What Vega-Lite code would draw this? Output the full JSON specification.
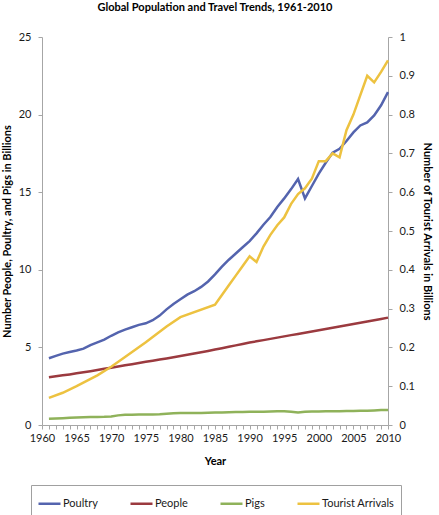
{
  "$schema": "https://vega.github.io/schema/vega-lite/v6.json",
  "width": 346,
  "height": 388,
  "padding": {"left": 1, "top": 2, "right": 4, "bottom": 0},
  "background": "white",
  "title": {"text": "Global Population and Travel Trends, 1961-2010", "font": "Lato", "fontSize": 11, "fontWeight": "bold", "color": "#000000", "offset": 18, "anchor": "middle"},
  "config": {
    "view": {"stroke": null},
    "axis": {"grid": false, "domainColor": "#A6A6A6", "tickColor": "#A6A6A6", "tickSize": 4, "labelFont": "Lato", "labelFontSize": 11, "labelColor": "#1a1a1a", "titleFont": "Lato", "titleFontSize": 11, "titleFontWeight": "bold", "titleColor": "#000000"},
    "legend": {"labelFont": "Lato", "labelFontSize": 11, "labelColor": "#1a1a1a"}
  },
  "data": {"values": [
    {"year":1961,"series":"Poultry","value":4.3},{"year":1962,"series":"Poultry","value":4.45},{"year":1963,"series":"Poultry","value":4.6},{"year":1964,"series":"Poultry","value":4.7},{"year":1965,"series":"Poultry","value":4.8},{"year":1966,"series":"Poultry","value":4.92},{"year":1967,"series":"Poultry","value":5.15},{"year":1968,"series":"Poultry","value":5.32},{"year":1969,"series":"Poultry","value":5.5},{"year":1970,"series":"Poultry","value":5.75},
    {"year":1971,"series":"Poultry","value":5.97},{"year":1972,"series":"Poultry","value":6.15},{"year":1973,"series":"Poultry","value":6.3},{"year":1974,"series":"Poultry","value":6.45},{"year":1975,"series":"Poultry","value":6.55},{"year":1976,"series":"Poultry","value":6.75},{"year":1977,"series":"Poultry","value":7.05},{"year":1978,"series":"Poultry","value":7.45},{"year":1979,"series":"Poultry","value":7.8},{"year":1980,"series":"Poultry","value":8.1},
    {"year":1981,"series":"Poultry","value":8.4},{"year":1982,"series":"Poultry","value":8.62},{"year":1983,"series":"Poultry","value":8.9},{"year":1984,"series":"Poultry","value":9.25},{"year":1985,"series":"Poultry","value":9.7},{"year":1986,"series":"Poultry","value":10.2},{"year":1987,"series":"Poultry","value":10.65},{"year":1988,"series":"Poultry","value":11.05},{"year":1989,"series":"Poultry","value":11.45},{"year":1990,"series":"Poultry","value":11.85},
    {"year":1991,"series":"Poultry","value":12.35},{"year":1992,"series":"Poultry","value":12.9},{"year":1993,"series":"Poultry","value":13.4},{"year":1994,"series":"Poultry","value":14.05},{"year":1995,"series":"Poultry","value":14.6},{"year":1996,"series":"Poultry","value":15.2},{"year":1997,"series":"Poultry","value":15.85},{"year":1998,"series":"Poultry","value":14.6},{"year":1999,"series":"Poultry","value":15.4},{"year":2000,"series":"Poultry","value":16.2},
    {"year":2001,"series":"Poultry","value":16.9},{"year":2002,"series":"Poultry","value":17.55},{"year":2003,"series":"Poultry","value":17.8},{"year":2004,"series":"Poultry","value":18.3},{"year":2005,"series":"Poultry","value":18.85},{"year":2006,"series":"Poultry","value":19.3},{"year":2007,"series":"Poultry","value":19.5},{"year":2008,"series":"Poultry","value":19.95},{"year":2009,"series":"Poultry","value":20.6},{"year":2010,"series":"Poultry","value":21.45},

    {"year":1961,"series":"People","value":3.08},{"year":1962,"series":"People","value":3.14},{"year":1963,"series":"People","value":3.2},{"year":1964,"series":"People","value":3.26},{"year":1965,"series":"People","value":3.33},{"year":1966,"series":"People","value":3.4},{"year":1967,"series":"People","value":3.47},{"year":1968,"series":"People","value":3.54},{"year":1969,"series":"People","value":3.62},{"year":1970,"series":"People","value":3.69},
    {"year":1971,"series":"People","value":3.77},{"year":1972,"series":"People","value":3.85},{"year":1973,"series":"People","value":3.92},{"year":1974,"series":"People","value":4.0},{"year":1975,"series":"People","value":4.07},{"year":1976,"series":"People","value":4.14},{"year":1977,"series":"People","value":4.22},{"year":1978,"series":"People","value":4.29},{"year":1979,"series":"People","value":4.37},{"year":1980,"series":"People","value":4.44},
    {"year":1981,"series":"People","value":4.52},{"year":1982,"series":"People","value":4.61},{"year":1983,"series":"People","value":4.69},{"year":1984,"series":"People","value":4.77},{"year":1985,"series":"People","value":4.86},{"year":1986,"series":"People","value":4.95},{"year":1987,"series":"People","value":5.04},{"year":1988,"series":"People","value":5.13},{"year":1989,"series":"People","value":5.22},{"year":1990,"series":"People","value":5.31},
    {"year":1991,"series":"People","value":5.39},{"year":1992,"series":"People","value":5.47},{"year":1993,"series":"People","value":5.55},{"year":1994,"series":"People","value":5.63},{"year":1995,"series":"People","value":5.71},{"year":1996,"series":"People","value":5.79},{"year":1997,"series":"People","value":5.87},{"year":1998,"series":"People","value":5.95},{"year":1999,"series":"People","value":6.03},{"year":2000,"series":"People","value":6.11},
    {"year":2001,"series":"People","value":6.19},{"year":2002,"series":"People","value":6.27},{"year":2003,"series":"People","value":6.35},{"year":2004,"series":"People","value":6.43},{"year":2005,"series":"People","value":6.51},{"year":2006,"series":"People","value":6.59},{"year":2007,"series":"People","value":6.67},{"year":2008,"series":"People","value":6.75},{"year":2009,"series":"People","value":6.83},{"year":2010,"series":"People","value":6.92},

    {"year":1961,"series":"Pigs","value":0.40},{"year":1962,"series":"Pigs","value":0.42},{"year":1963,"series":"Pigs","value":0.44},{"year":1964,"series":"Pigs","value":0.46},{"year":1965,"series":"Pigs","value":0.48},{"year":1966,"series":"Pigs","value":0.5},{"year":1967,"series":"Pigs","value":0.51},{"year":1968,"series":"Pigs","value":0.52},{"year":1969,"series":"Pigs","value":0.53},{"year":1970,"series":"Pigs","value":0.55},
    {"year":1971,"series":"Pigs","value":0.62},{"year":1972,"series":"Pigs","value":0.66},{"year":1973,"series":"Pigs","value":0.66},{"year":1974,"series":"Pigs","value":0.67},{"year":1975,"series":"Pigs","value":0.67},{"year":1976,"series":"Pigs","value":0.68},{"year":1977,"series":"Pigs","value":0.7},{"year":1978,"series":"Pigs","value":0.73},{"year":1979,"series":"Pigs","value":0.76},{"year":1980,"series":"Pigs","value":0.78},
    {"year":1981,"series":"Pigs","value":0.77},{"year":1982,"series":"Pigs","value":0.78},{"year":1983,"series":"Pigs","value":0.78},{"year":1984,"series":"Pigs","value":0.79},{"year":1985,"series":"Pigs","value":0.8},{"year":1986,"series":"Pigs","value":0.81},{"year":1987,"series":"Pigs","value":0.82},{"year":1988,"series":"Pigs","value":0.83},{"year":1989,"series":"Pigs","value":0.84},{"year":1990,"series":"Pigs","value":0.85},
    {"year":1991,"series":"Pigs","value":0.86},{"year":1992,"series":"Pigs","value":0.86},{"year":1993,"series":"Pigs","value":0.87},{"year":1994,"series":"Pigs","value":0.88},{"year":1995,"series":"Pigs","value":0.89},{"year":1996,"series":"Pigs","value":0.86},{"year":1997,"series":"Pigs","value":0.8},{"year":1998,"series":"Pigs","value":0.85},{"year":1999,"series":"Pigs","value":0.87},{"year":2000,"series":"Pigs","value":0.87},
    {"year":2001,"series":"Pigs","value":0.88},{"year":2002,"series":"Pigs","value":0.88},{"year":2003,"series":"Pigs","value":0.89},{"year":2004,"series":"Pigs","value":0.9},{"year":2005,"series":"Pigs","value":0.91},{"year":2006,"series":"Pigs","value":0.92},{"year":2007,"series":"Pigs","value":0.92},{"year":2008,"series":"Pigs","value":0.94},{"year":2009,"series":"Pigs","value":0.96},{"year":2010,"series":"Pigs","value":0.97},

    {"year":1961,"series":"Tourist Arrivals","value":0.07},{"year":1963,"series":"Tourist Arrivals","value":0.083},{"year":1965,"series":"Tourist Arrivals","value":0.10},{"year":1968,"series":"Tourist Arrivals","value":0.128},{"year":1970,"series":"Tourist Arrivals","value":0.15},{"year":1972,"series":"Tourist Arrivals","value":0.175},{"year":1975,"series":"Tourist Arrivals","value":0.213},{"year":1978,"series":"Tourist Arrivals","value":0.254},{"year":1980,"series":"Tourist Arrivals","value":0.278},{"year":1985,"series":"Tourist Arrivals","value":0.31},
    {"year":1986,"series":"Tourist Arrivals","value":0.335},{"year":1987,"series":"Tourist Arrivals","value":0.36},{"year":1988,"series":"Tourist Arrivals","value":0.385},{"year":1989,"series":"Tourist Arrivals","value":0.41},{"year":1990,"series":"Tourist Arrivals","value":0.435},{"year":1991,"series":"Tourist Arrivals","value":0.42},{"year":1992,"series":"Tourist Arrivals","value":0.46},{"year":1993,"series":"Tourist Arrivals","value":0.49},{"year":1994,"series":"Tourist Arrivals","value":0.515},{"year":1995,"series":"Tourist Arrivals","value":0.535},
    {"year":1996,"series":"Tourist Arrivals","value":0.57},{"year":1997,"series":"Tourist Arrivals","value":0.595},{"year":1998,"series":"Tourist Arrivals","value":0.61},{"year":1999,"series":"Tourist Arrivals","value":0.635},{"year":2000,"series":"Tourist Arrivals","value":0.68},{"year":2001,"series":"Tourist Arrivals","value":0.68},{"year":2002,"series":"Tourist Arrivals","value":0.70},{"year":2003,"series":"Tourist Arrivals","value":0.69},{"year":2004,"series":"Tourist Arrivals","value":0.76},{"year":2005,"series":"Tourist Arrivals","value":0.80},
    {"year":2006,"series":"Tourist Arrivals","value":0.85},{"year":2007,"series":"Tourist Arrivals","value":0.90},{"year":2008,"series":"Tourist Arrivals","value":0.883},{"year":2009,"series":"Tourist Arrivals","value":0.91},{"year":2010,"series":"Tourist Arrivals","value":0.94}
  ]},
  "encoding": {
    "x": {"field": "year", "type": "quantitative", "scale": {"domain": [1960, 2010], "nice": false, "zero": false},
      "axis": {"title": "Year", "values": [1960,1961,1962,1963,1964,1965,1966,1967,1968,1969,1970,1971,1972,1973,1974,1975,1976,1977,1978,1979,1980,1981,1982,1983,1984,1985,1986,1987,1988,1989,1990,1991,1992,1993,1994,1995,1996,1997,1998,1999,2000,2001,2002,2003,2004,2005,2006,2007,2008,2009,2010],
        "format": "d", "labelExpr": "datum.value % 5 === 0 ? datum.label : ''", "labelPadding": 3, "titlePadding": 12, "labelFlush": false, "labelOverlap": false}},
    "color": {"field": "series", "type": "nominal",
      "scale": {"domain": ["Poultry", "People", "Pigs", "Tourist Arrivals"], "range": ["#5464AE", "#9B3A3F", "#8FB25A", "#EDC240"]},
      "legend": {"title": null, "orient": "none", "direction": "horizontal", "legendX": -11, "legendY": 448, "symbolType": "stroke", "symbolSize": 484, "symbolStrokeWidth": 2.5, "labelOffset": 1, "columnPadding": 27, "padding": 6, "strokeColor": "#A0A0A0", "fillColor": "white"}}
  },
  "layer": [
    {
      "transform": [{"filter": "datum.series !== 'Tourist Arrivals'"}],
      "mark": {"type": "line", "strokeWidth": 2.5},
      "encoding": {
        "y": {"field": "value", "type": "quantitative", "scale": {"domain": [0, 25], "nice": false},
          "axis": {"orient": "left", "title": "Number People, Poultry, and Pigs in Billions", "values": [0,5,10,15,20,25], "labelPadding": 7, "titlePadding": 6}}
      }
    },
    {
      "transform": [{"filter": "datum.series === 'Tourist Arrivals'"}],
      "mark": {"type": "line", "strokeWidth": 2.5},
      "encoding": {
        "y": {"field": "value", "type": "quantitative", "scale": {"domain": [0, 1], "nice": false},
          "axis": {"orient": "right", "title": "Number of Tourist Arrivals in Billions", "values": [0,0.1,0.2,0.3,0.4,0.5,0.6,0.7,0.8,0.9,1], "format": "~g", "labelPadding": 7, "titlePadding": 7}}
      }
    }
  ],
  "resolve": {"scale": {"y": "independent"}}
}
